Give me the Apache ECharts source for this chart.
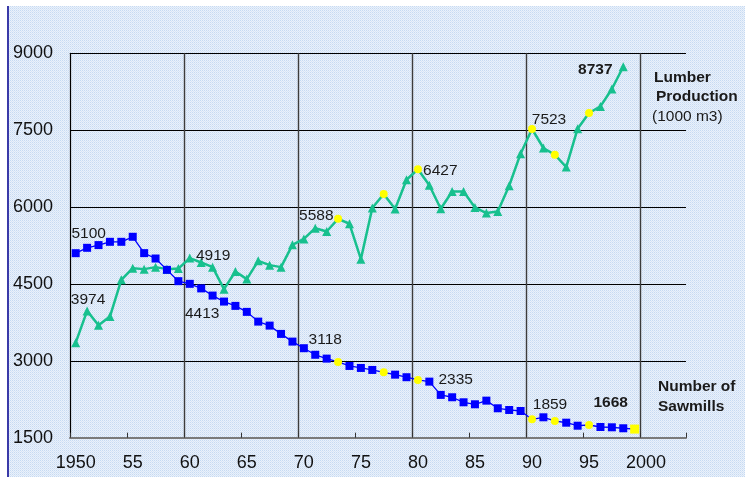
<!DOCTYPE html>
<html>
<head>
<meta charset="utf-8">
<title>Lumber Production and Number of Sawmills, 1950–1999</title>
<script src="https://cdn.jsdelivr.net/npm/echarts@6/dist/echarts.min.js"></script>
<style>
  html, body { margin: 0; padding: 0; background: #ffffff; }
  #chart { width: 745px; height: 477px; }
</style>
</head>
<body>
<div id="chart"></div>
<script>
// Years on the category axis (one band per year, 1950–2003)
const years = Array.from({ length: 54 }, (_, i) => String(1950 + i));

// Tick labels shown every five years
const tickLabels = ['1950', '55', '60', '65', '70', '75', '80', '85', '90', '95', '2000'];

// Lumber production, 1000 m3 (1950–1998)
const lumberProduction = [
  3355, 3974, 3695, 3863, 4580, 4808, 4789, 4828, 4789, 4800,
  5004, 4919, 4828, 4398, 4742, 4594, 4951, 4867, 4828, 5263,
  5378, 5588, 5523, 5771, 5674, 4984, 5980, 6254, 5961, 6533,
  6738, 6427, 5967, 6304, 6304, 5992, 5883, 5914, 6416, 7041,
  7523, 7152, 7021, 6781, 7529, 7835, 7964, 8304, 8737
];

// Number of sawmills (1950–1999)
const sawmillCount = [
  5100, 5205, 5258, 5322, 5322, 5420, 5101, 4996, 4775, 4554,
  4502, 4413, 4273, 4156, 4072, 3955, 3765, 3687, 3525, 3375,
  3246, 3118, 3043, 2978, 2900, 2861, 2822, 2776, 2730, 2680,
  2627, 2594, 2335, 2289, 2191, 2152, 2223, 2074, 2041, 2021,
  1859, 1898, 1826, 1793, 1734, 1748, 1709, 1703, 1684, 1668
];

// Years marked with yellow points
const markedYears = [1973, 1977, 1980, 1990, 1992, 1995, 1999];

// Value axis ticks
const yTicks = { min: 1500, max: 9000, step: 1500 };

// Years whose values are written beside the point
const lumberLabelYears = [1951, 1961, 1971, 1981, 1990, 1998];
const sawmillLabelYears = [1950, 1961, 1971, 1982, 1990, 1999];

// Label placement (pixel offsets from the point centre) and weight
const lumberLabelStyle = {
  1951: { offset: [1, -11] },
  1961: { offset: [12, -7] },
  1971: { offset: [1, -12] },
  1981: { offset: [11, -14] },
  1990: { offset: [17, -9] },
  1998: { offset: [-28, 3], bold: true }
};
const sawmillLabelStyle = {
  1950: { offset: [13, -19] },
  1961: { offset: [1, 25] },
  1971: { offset: [10, -15] },
  1982: { offset: [15, -15] },
  1990: { offset: [18, -15] },
  1999: { offset: [-24, -26], bold: true }
};

const FONT = '"Liberation Sans", Arial, sans-serif';
const LUMBER_COLOR = '#17c08e';
const SAWMILL_COLOR = '#0000ff';
const MARK_COLOR = '#ffff00';

function buildItems(values, labelYears, labelStyle, baseSymbol, lastSymbolKeeps) {
  return values.map((v, i) => {
    const year = 1950 + i;
    const item = { value: v };
    if (markedYears.includes(year)) {
      const isLast = i === values.length - 1;
      item.symbol = (isLast && lastSymbolKeeps) ? baseSymbol : 'circle';
      item.symbolSize = (isLast && lastSymbolKeeps) ? 9 : 8;
      item.itemStyle = { color: MARK_COLOR };
    }
    if (labelYears.includes(year)) {
      const st = labelStyle[year];
      item.label = {
        show: true,
        position: 'inside',
        offset: st.offset,
        formatter: '{c}',
        fontFamily: FONT,
        fontSize: 15.5,
        fontWeight: st.bold ? 'bold' : 'normal',
        color: '#1a1a1a'
      };
    }
    return item;
  });
}

// Light blue dotted backdrop
function makePattern() {
  const c = document.createElement('canvas');
  c.width = 2; c.height = 2;
  const g = c.getContext('2d');
  g.fillStyle = '#eaf1fb'; g.fillRect(0, 0, 2, 2);
  g.fillStyle = '#c6daf2'; g.fillRect(0, 0, 1, 1);
  g.fillStyle = '#d7e5f6'; g.fillRect(1, 1, 1, 1);
  return c;
}

const chart = echarts.init(document.getElementById('chart'), null, { renderer: 'canvas' });

const option = {
  animation: false,
  backgroundColor: '#ffffff',
  graphic: [
    {
      type: 'rect', z: -100, silent: true,
      shape: { x: 9, y: 6, width: 736, height: 471 },
      style: { fill: { image: makePattern(), repeat: 'repeat' } }
    },
    {
      type: 'rect', z: -99, silent: true,
      shape: { x: 7, y: 6, width: 2, height: 471 },
      style: { fill: '#3a3aa8' }
    },
    { type: 'text', x: 654, y: 78, style: { text: 'Lumber', font: 'bold 15.5px ' + FONT, fill: '#1a1a1a', verticalAlign: 'middle' } },
    { type: 'text', x: 656, y: 97, style: { text: 'Production', font: 'bold 15.5px ' + FONT, fill: '#1a1a1a', verticalAlign: 'middle' } },
    { type: 'text', x: 652, y: 117, style: { text: '(1000 m3)', font: '15.5px ' + FONT, fill: '#1a1a1a', verticalAlign: 'middle' } },
    { type: 'text', x: 658, y: 387, style: { text: 'Number of', font: 'bold 15.5px ' + FONT, fill: '#1a1a1a', verticalAlign: 'middle' } },
    { type: 'text', x: 658, y: 407, style: { text: 'Sawmills', font: 'bold 15.5px ' + FONT, fill: '#1a1a1a', verticalAlign: 'middle' } }
  ],
  grid: { left: 70, right: 59, top: 53.3, bottom: 39.3 },
  xAxis: {
    type: 'category',
    data: years,
    boundaryGap: true,
    axisLine: { show: true, lineStyle: { color: '#7a7a7a', width: 2 } },
    axisTick: {
      show: true, inside: true, length: 5,
      interval: (index) => index % 5 === 0,
      lineStyle: { color: '#333', width: 1 }
    },
    axisLabel: {
      interval: (index) => index % 5 === 0,
      formatter: (value, index) => tickLabels[index / 5],
      fontFamily: FONT, fontSize: 18, color: '#111', margin: 16
    },
    splitLine: {
      show: true,
      interval: (index) => index % 10 === 0,
      showMinLine: false,
      showMaxLine: false,
      lineStyle: { color: '#3c3c3c', width: 1.4 }
    }
  },
  yAxis: {
    type: 'value',
    min: yTicks.min, max: yTicks.max, interval: yTicks.step,
    axisLine: { show: true, lineStyle: { color: '#000', width: 1.2 } },
    axisTick: { show: false },
    axisLabel: {
      formatter: (v) => String(v),
      fontFamily: FONT, fontSize: 18, color: '#111', margin: 17
    },
    splitLine: { show: true, lineStyle: { color: '#000', width: 1 } }
  },
  series: [
    {
      name: 'Lumber Production',
      type: 'line',
      data: buildItems(lumberProduction, lumberLabelYears, lumberLabelStyle, 'triangle', false),
      symbol: 'triangle',
      symbolSize: 9,
      showAllSymbol: true,
      itemStyle: { color: LUMBER_COLOR },
      lineStyle: { color: LUMBER_COLOR, width: 2.5 },
      z: 3
    },
    {
      name: 'Number of Sawmills',
      type: 'line',
      data: buildItems(sawmillCount, sawmillLabelYears, sawmillLabelStyle, 'rect', true),
      symbol: 'rect',
      symbolSize: 8,
      showAllSymbol: true,
      itemStyle: { color: SAWMILL_COLOR },
      lineStyle: { color: SAWMILL_COLOR, width: 1.3 },
      z: 4
    }
  ]
};

chart.setOption(option);
</script>
</body>
</html>
